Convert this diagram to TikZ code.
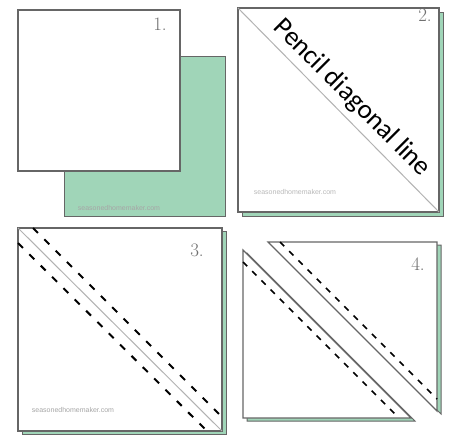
\documentclass[tikz,border=0pt]{standalone}
\usepackage{fontspec}
\newfontfamily\calib{Carlito}
\newfontfamily\wmfont{Liberation Sans}
\usepackage{xcolor}
\definecolor{mint}{HTML}{A0D5B8}
\definecolor{edge}{HTML}{666666}
\definecolor{numgray}{HTML}{707070}
\usetikzlibrary{positioning}
\tikzset{
  sheet/.style={draw=edge, fill=white, line width=1.2pt},
  backing/.style={draw=edge, fill=mint, line width=1pt},
  seam/.style={draw=black, line width=2pt, dash pattern=on 7pt off 9pt},
  number/.style={font=\fontsize{19}{19}\selectfont, text=numgray},
  watermark/.style={font=\wmfont\fontsize{7}{7}\selectfont, text=gray!70}
}

\begin{document}
\begin{tikzpicture}[x=1pt, y=-1pt]
  \useasboundingbox (0,0) rectangle (450,434);
  % 1. two squares
  \draw[backing] (64,56) rectangle (225,216);
  \draw[sheet] (18,10) rectangle (180,171);
  \node[number] (n1) at (160,24) {1.};
  \node[watermark] (w1) at (119,208) {seasonedhomemaker.com};
  % 2. pencil line
  \draw[backing] (242,12) rectangle (443,216);
  \draw[sheet] (238,8) rectangle (439,212);
  \draw[gray!60, line width=1pt] (238,8) -- (439,212);
  \node[number] (n2) at (425,15) {2.};
  \node[watermark, text=gray!55] (w2) at (295,192) {seasonedhomemaker.com};
  \node[font=\calib\fontsize{27}{28}\selectfont, rotate=-45] (pencil)
       at (352,98) {Pencil diagonal line};
  % 3. sew both sides
  \draw[backing] (22,231) rectangle (226,434);
  \draw[sheet] (18,228) rectangle (222,431);
  \draw[gray!60, line width=1pt] (18,228) -- (222,431);
  \draw[seam] (33,228) -- (222,417);
  \draw[seam] (18,243) -- (207,431);
  \node[number] (n3) at (197,250) {3.};
  \node[watermark] (w3) at (73,410) {seasonedhomemaker.com};
  % 4. cut apart
  \draw[backing] (272,245) -- (441,245) -- (441,414) -- cycle;
  \draw[sheet] (268,242) -- (437,242) -- (437,411) -- cycle;
  \draw[backing] (247,253) -- (247,421) -- (415,421) -- cycle;
  \draw[sheet] (243,250) -- (243,418) -- (411,418) -- cycle;
  \draw[seam, line width=1.7pt, dash pattern=on 6pt off 7pt] (280,242) -- (437,399);
  \draw[seam, line width=1.7pt, dash pattern=on 6pt off 7pt] (243,262) -- (399,418);
  \node[number] (n4) at (418,264) {4.};
\end{tikzpicture}
\end{document}
